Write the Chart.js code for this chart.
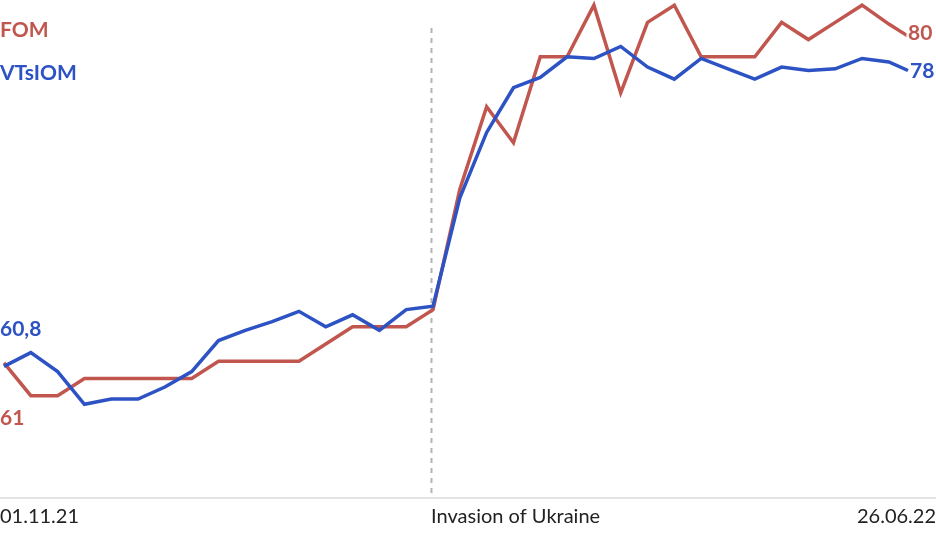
<!DOCTYPE html>
<html>
<head>
<meta charset="utf-8">
<script src="https://cdn.jsdelivr.net/npm/chart.js@4"></script>
<style>
  body { margin: 0; background: #fff; }
  #wrap { width: 936px; height: 549px; position: relative; }
</style>
</head>
<body>
<div id="wrap"><canvas id="approvalChart"></canvas></div>
<script>
// days since 01.11.21 (weekly polls, last one 26.06)
const days = [0, 7, 14, 21, 28, 35, 42, 49, 56, 63, 70, 77, 84, 91, 98, 105, 112,
  119, 126, 133, 140, 147, 154, 161, 168, 175, 182, 189, 196, 203, 210, 217, 224, 231, 236];

const vtsiom = [60.8, 61.6, 60.5, 58.6, 58.9, 58.9, 59.6, 60.5, 62.3, 62.9, 63.4, 64.0, 63.1, 63.8, 62.9, 64.1, 64.3,
  70.6, 74.4, 77.0, 77.6, 78.8, 78.7, 79.4, 78.2, 77.5, 78.7, 78.1, 77.5, 78.2, 78.0, 78.1, 78.7, 78.5, 78];

const fom = [61, 59.1, 59.1, 60.1, 60.1, 60.1, 60.1, 60.1, 61.1, 61.1, 61.1, 61.1, 62.1, 63.1, 63.1, 63.1, 64.1,
  71.1, 75.9, 73.8, 78.8, 78.8, 81.8, 76.7, 80.8, 81.8, 78.8, 78.8, 78.8, 80.8, 79.8, 80.8, 81.8, 80.7, 80];

const invasionDay = 111.5;
const xLabels = ["01.11.21", "Invasion of Ukraine", "26.06.22"];

const RED = "#c1564f";
const BLUE = "#2c52c4";

function pts(vals) {
  return vals.map((v, i) => ({ x: days[i], y: v }));
}

function haloText(ctx, txt, x, y, color, align) {
  ctx.textAlign = align;
  ctx.lineWidth = 5;
  ctx.strokeStyle = "rgba(255,255,255,0.9)";
  ctx.strokeText(txt, x, y);
  ctx.fillStyle = color;
  ctx.fillText(txt, x, y);
}

const decor = {
  id: "decor",
  beforeDatasetsDraw(chart) {
    const ctx = chart.ctx;
    const xs = chart.scales.x;
    const area = chart.chartArea;
    ctx.save();
    // baseline
    ctx.strokeStyle = "#e4e4e4";
    ctx.lineWidth = 2;
    ctx.beginPath();
    ctx.moveTo(0, area.bottom);
    ctx.lineTo(chart.width, area.bottom);
    ctx.stroke();
    // invasion marker
    const ix = Math.round(xs.getPixelForValue(invasionDay)) + 0.5;
    ctx.strokeStyle = "#b3b3b3";
    ctx.lineWidth = 2;
    ctx.setLineDash([5, 5]);
    ctx.beginPath();
    ctx.moveTo(ix, 28);
    ctx.lineTo(ix, area.bottom);
    ctx.stroke();
    ctx.restore();
  },
  afterDraw(chart) {
    const ctx = chart.ctx;
    const xs = chart.scales.x;
    const ys = chart.scales.y;
    ctx.save();
    // bottom labels
    ctx.font = "20px Lato";
    ctx.fillStyle = "#222";
    ctx.textBaseline = "middle";
    ctx.textAlign = "left";
    ctx.fillText(xLabels[0], 0, 517);
    ctx.fillText(xLabels[1], xs.getPixelForValue(invasionDay), 517);
    ctx.textAlign = "right";
    ctx.fillText(xLabels[2], chart.width, 517);

    // series names
    ctx.font = "bold 21px Lato";
    haloText(ctx, "FOM", 0, 30, RED, "left");
    haloText(ctx, "VTsIOM", 0, 73, BLUE, "left");

    // start values
    haloText(ctx, "60,8", 0, ys.getPixelForValue(vtsiom[0]) - 37, BLUE, "left");
    haloText(ctx, "61", 0, ys.getPixelForValue(fom[0]) + 55, RED, "left");

    // end values
    const last = days.length - 1;
    const ex = xs.getPixelForValue(days[last]);
    haloText(ctx, "80", ex, ys.getPixelForValue(fom[last]) - 3, RED, "left");
    haloText(ctx, "78", ex + 2, ys.getPixelForValue(vtsiom[last]) + 1, BLUE, "left");
    ctx.restore();
  }
};

new Chart(document.getElementById("approvalChart").getContext("2d"), {
  type: "line",
  data: {
    datasets: [
      {
        label: "VTsIOM",
        data: pts(vtsiom),
        borderColor: BLUE,
        borderWidth: 3.5,
        pointRadius: 0,
        tension: 0,
        clip: false
      },
      {
        label: "FOM",
        data: pts(fom),
        borderColor: RED,
        borderWidth: 3.5,
        pointRadius: 0,
        tension: 0,
        clip: false
      }
    ]
  },
  options: {
    responsive: true,
    maintainAspectRatio: false,
    animation: false,
    layout: { padding: { left: 4, right: 28, top: 0, bottom: 51 } },
    plugins: { legend: { display: false }, tooltip: { enabled: false } },
    scales: {
      x: { type: "linear", min: 0, max: 236, display: false },
      y: { min: 53.15, max: 82.1, display: false }
    }
  },
  plugins: [decor]
});
</script>
</body>
</html>
